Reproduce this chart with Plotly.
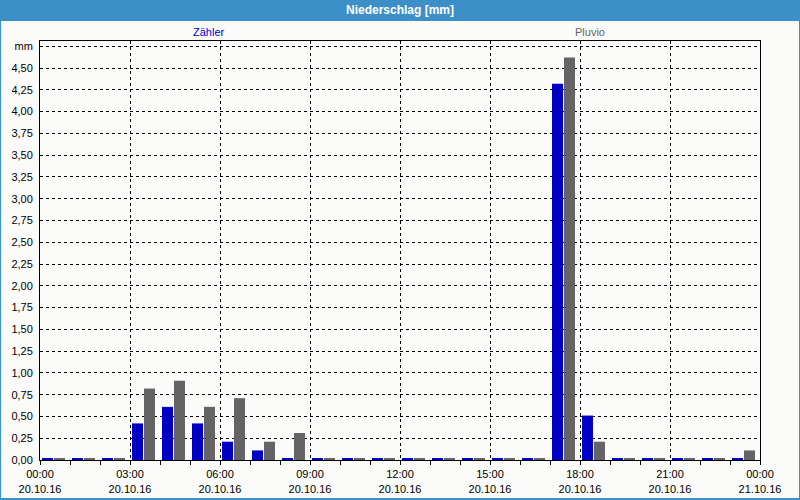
import plotly.graph_objects as go

# ---- data ----
hours = list(range(24))
zaehler = [0.012, 0.012, 0.012, 0.42, 0.61, 0.42, 0.21, 0.11, 0.012, 0.012, 0.012, 0.012,
           0.012, 0.012, 0.012, 0.012, 0.012, 4.32, 0.51, 0.012, 0.012, 0.012, 0.012, 0.012]
pluvio = [0.012, 0.012, 0.012, 0.82, 0.91, 0.61, 0.71, 0.21, 0.31, 0.012, 0.012, 0.012,
          0.012, 0.012, 0.012, 0.012, 0.012, 4.62, 0.21, 0.012, 0.012, 0.012, 0.012, 0.11]
x_tick_vals = [0, 3, 6, 9, 12, 15, 18, 21, 24]
x_tick_labels = ["00:00<br>20.10.16", "03:00<br>20.10.16", "06:00<br>20.10.16",
                 "09:00<br>20.10.16", "12:00<br>20.10.16", "15:00<br>20.10.16",
                 "18:00<br>20.10.16", "21:00<br>20.10.16", "00:00<br>21.10.16"]
y_tick_vals = [i * 0.25 for i in range(20)]
y_tick_labels = ["0,00", "0,25", "0,50", "0,75", "1,00", "1,25", "1,50", "1,75", "2,00", "2,25",
                 "2,50", "2,75", "3,00", "3,25", "3,50", "3,75", "4,00", "4,25", "4,50", "mm"]
series_names = ["Zähler", "Pluvio"]

# ---- style ----
W, H = 800, 500
L, R, T, B = 40, 40, 41, 40
PW, PH = W - L - R, H - T - B
BLUE = "#0000c4"
GRAY = "#666366"
FRAME = "#3d8fc8"
BG = "#fbfcfa"
FONT = "Liberation Sans"


def px(x):
    return (x - L) / PW


def py(y):
    return 1 - (y - T) / PH


fig = go.Figure()
fig.add_trace(go.Bar(x=hours, y=zaehler, name=series_names[0], marker_color=BLUE,
                     width=11 / 30, offset=2 / 30, marker_line_width=0))
fig.add_trace(go.Bar(x=hours, y=pluvio, name=series_names[1], marker_color=GRAY,
                     width=11 / 30, offset=14 / 30, marker_line_width=0))

fig.update_layout(
    width=W, height=H,
    margin=dict(l=L, r=R, t=T, b=B, pad=0, autoexpand=False),
    paper_bgcolor=FRAME,
    plot_bgcolor=BG,
    barmode="overlay",
    showlegend=False,
    font=dict(family=FONT, size=11, color="#000000"),
    shapes=[
        dict(type="rect", xref="paper", yref="paper", layer="below",
             x0=px(1), x1=px(799), y0=py(498), y1=py(21),
             fillcolor=BG, line_width=0),
    ],
    annotations=[
        dict(text="<b>Niederschlag [mm]</b>", xref="paper", yref="paper",
             x=px(400), y=py(10), showarrow=False, xanchor="center", yanchor="middle",
             font=dict(family=FONT, size=12, color="#ffffff")),
        dict(text=series_names[0], xref="paper", yref="paper",
             x=px(209), y=py(32), showarrow=False, xanchor="center", yanchor="middle",
             font=dict(family=FONT, size=11, color=BLUE)),
        dict(text=series_names[1], xref="paper", yref="paper",
             x=px(590), y=py(32), showarrow=False, xanchor="center", yanchor="middle",
             font=dict(family=FONT, size=11, color=GRAY)),
    ],
)

fig.update_xaxes(
    range=[0, 24], tickvals=x_tick_vals, ticktext=x_tick_labels,
    showgrid=True, gridcolor="#000000", griddash="3px,3px", gridwidth=1,
    showline=True, linecolor="#000000", linewidth=1, mirror=True,
    ticks="outside", ticklen=4, tickcolor="#000000",
    minor=dict(tick0=0, dtick=1, ticks="outside", ticklen=4, tickcolor="#000000", showgrid=False),
    zeroline=False, fixedrange=True, automargin=False,
)
fig.update_yaxes(
    range=[0, 4.81], tickvals=y_tick_vals, ticktext=y_tick_labels,
    showgrid=True, gridcolor="#000000", griddash="3px,3px", gridwidth=1,
    showline=True, linecolor="#000000", linewidth=1, mirror=True,
    ticks="", ticklabelstandoff=4,
    zeroline=False, fixedrange=True, automargin=False,
)

fig.write_html("out.html")
